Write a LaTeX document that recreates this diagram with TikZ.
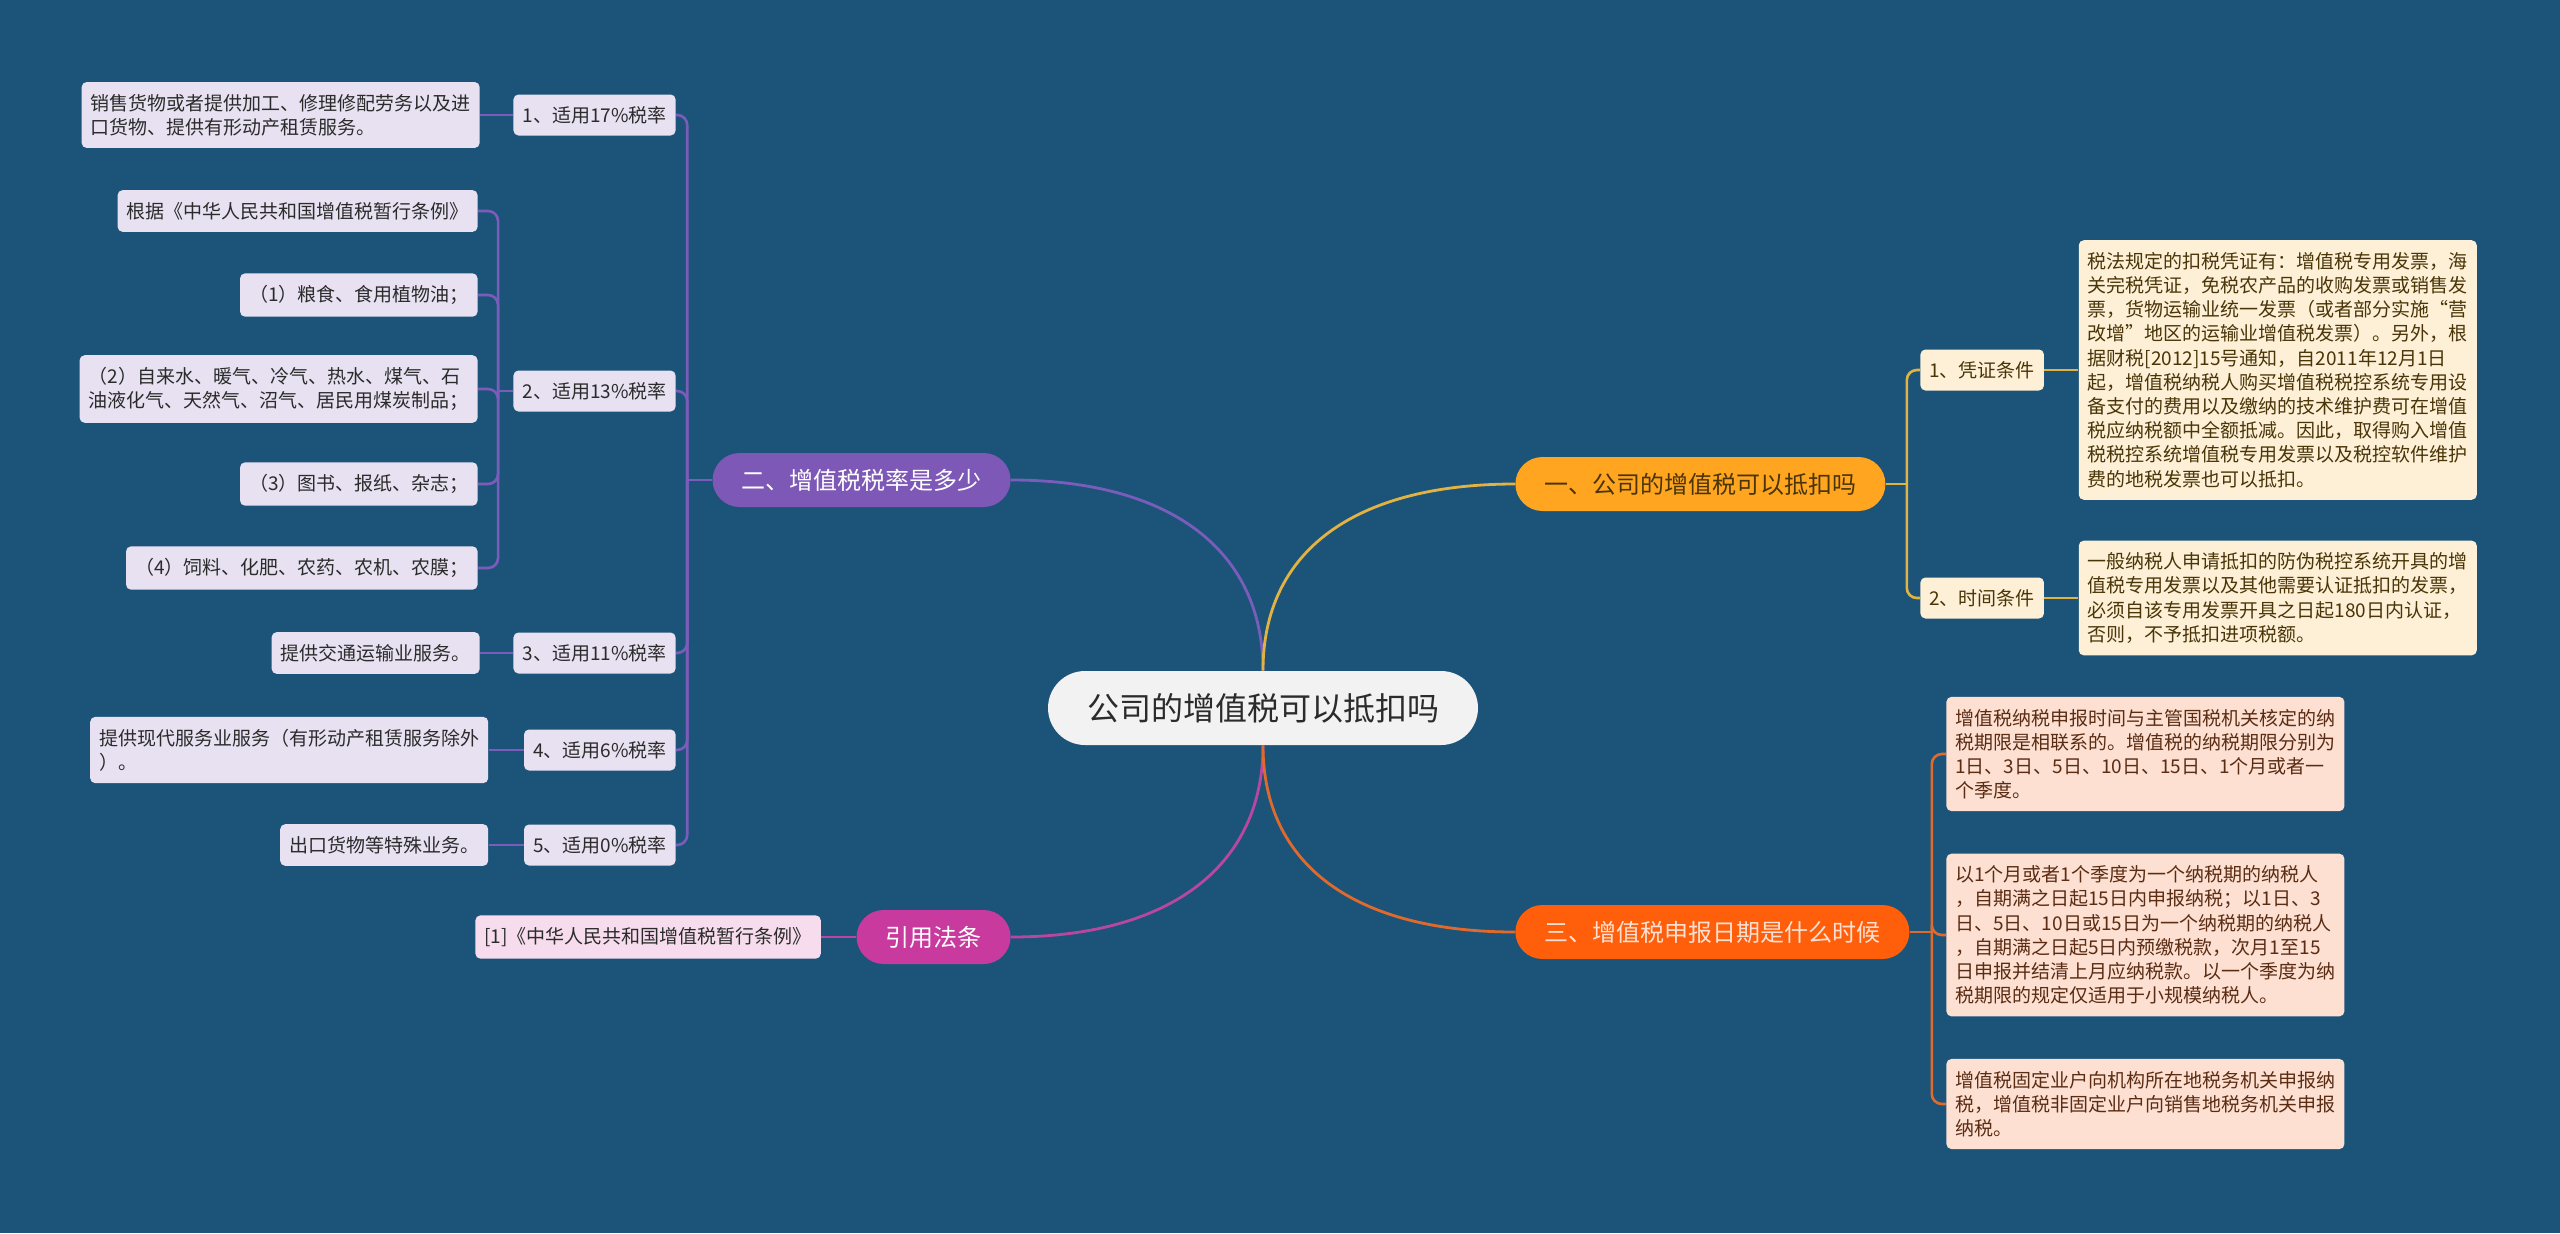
\documentclass[tikz,border=0pt]{standalone}
\usepackage{fontspec}
\setmainfont{Noto Sans CJK SC}
\usetikzlibrary{positioning}
\definecolor{bgBlue}{HTML}{1C5479}
\definecolor{rootG}{HTML}{F2F2F2}
\definecolor{inkD}{HTML}{2B2B2B}
\definecolor{amberM}{HTML}{FFA51F}
\definecolor{amberL}{HTML}{FDF0D6}
\definecolor{amberT}{HTML}{4A3508}
\definecolor{amberW}{HTML}{E2B243}
\definecolor{violetM}{HTML}{7E58B6}
\definecolor{violetL}{HTML}{E7E1F1}
\definecolor{violetW}{HTML}{7A5DBA}
\definecolor{orchidM}{HTML}{C93A9E}
\definecolor{orchidL}{HTML}{F6DCEC}
\definecolor{orchidW}{HTML}{B9479F}
\definecolor{flameM}{HTML}{FF5F0A}
\definecolor{flameL}{HTML}{FDE0D2}
\definecolor{flameT}{HTML}{5A2C14}
\definecolor{flameW}{HTML}{E06A2C}

\begin{document}
\begin{tikzpicture}[
  x=0.5pt, y=-0.5pt,
  rootbox/.style={
    fill=rootG, text=inkD,
    rounded corners=18.5pt,
    minimum height=37pt, inner xsep=19.5pt, inner ysep=0pt,
    font=\fontsize{16pt}{19pt}\selectfont
  },
  topicbox/.style={
    fill=#1, rounded corners=13.5pt,
    minimum height=27pt, inner xsep=14.5pt, inner ysep=0pt,
    font=\fontsize{12pt}{14pt}\selectfont
  },
  subbox/.style={
    fill=#1, text=inkD, rounded corners=2.5pt,
    minimum height=20.5pt, inner xsep=4.5pt, inner ysep=0pt,
    font=\fontsize{9.5pt}{12.1pt}\selectfont
  },
  leafbox/.style={
    fill=#1, text=inkD, rounded corners=2.5pt, align=left,
    minimum height=20.5pt, inner xsep=4.5pt, inner ysep=6pt,
    font=\fontsize{9.5pt}{12.1pt}\selectfont
  },
  wire/.style={draw=#1, line width=1.4pt},
  branch/.style={draw=#1, line width=1.3pt, rounded corners=5pt}
]
\useasboundingbox (0,0) rectangle (2560,1233);
\fill[bgBlue] (0,0) rectangle (2560,1233);

%% ═══ ROOT ═══
\node[rootbox] (root) at (1263,708) {公司的增值税可以抵扣吗};

%% ═══ TOPICS ═══
\node[topicbox=violetM, text=white, anchor=east] (rate) at (1011,480) {二、增值税税率是多少};
\node[topicbox=orchidM, text=white, anchor=east] (law) at (1011,937) {引用法条};
\node[topicbox=amberM, text=amberT, anchor=west] (deduct) at (1515,484) {一、公司的增值税可以抵扣吗};
\node[topicbox=flameM, text=flameL, anchor=west] (filing) at (1515,932) {三、增值税申报日期是什么时候};

\draw[wire=violetW] (root.north) .. controls +(0,-120) and +(160,0) .. (rate.east);
\draw[wire=amberW] (root.north) .. controls +(0,-120) and +(-160,0) .. (deduct.west);
\draw[wire=orchidW] (root.south) .. controls +(0,120) and +(160,0) .. (law.east);
\draw[wire=flameW] (root.south) .. controls +(0,120) and +(-160,0) .. (filing.west);

%% ═══ RATES ═══
\node[subbox=violetL, anchor=east] (r17) at (676,115) {1、适用17\%税率};
\node[subbox=violetL, anchor=east] (r13) at (676,391) {2、适用13\%税率};
\node[subbox=violetL, anchor=east] (r11) at (676,653) {3、适用11\%税率};
\node[subbox=violetL, anchor=east] (r6) at (676,750) {4、适用6\%税率};
\node[subbox=violetL, anchor=east] (r0) at (676,845) {5、适用0\%税率};

\path (rate.west) ++(-25,0) coordinate (rateJ);
\draw[wire=violetW] (rate.west) -- (rateJ);
\foreach \k in {r17,r13,r11,r6,r0}
  \draw[branch=violetW] (rateJ) |- (\k.east);

\node[leafbox=violetL, left=16.5pt of r17] (s17)
  {销售货物或者提供加工、修理修配劳务以及进\\口货物、提供有形动产租赁服务。};
\draw[wire=violetW] (r17.west) -- (s17.east);

\node[leafbox=violetL, anchor=east] (g0) at (478,211) {根据《中华人民共和国增值税暂行条例》};
\node[leafbox=violetL, anchor=east] (g1) at (478,295) {（1）粮食、食用植物油；};
\node[leafbox=violetL, anchor=east] (g2) at (478,389)
  {（2）自来水、暖气、冷气、热水、煤气、石\\油液化气、天然气、沼气、居民用煤炭制品；};
\node[leafbox=violetL, anchor=east] (g3) at (478,484) {（3）图书、报纸、杂志；};
\node[leafbox=violetL, anchor=east] (g4) at (478,568) {（4）饲料、化肥、农药、农机、农膜；};

\path (r13.west) ++(-15,0) coordinate (r13J);
\draw[wire=violetW] (r13.west) -- (r13J);
\foreach \k in {g0,g1,g2,g3,g4}
  \draw[branch=violetW] (r13J) |- (\k.east);

\node[leafbox=violetL, left=16.5pt of r11] (s11) {提供交通运输业服务。};
\draw[wire=violetW] (r11.west) -- (s11.east);

\node[leafbox=violetL, left=17.5pt of r6] (s6)
  {提供现代服务业服务（有形动产租赁服务除外\\）。};
\draw[wire=violetW] (r6.west) -- (s6.east);

\node[leafbox=violetL, left=17.5pt of r0] (s0) {出口货物等特殊业务。};
\draw[wire=violetW] (r0.west) -- (s0.east);

%% ═══ LAW ═══
\node[leafbox=orchidL, left=17.5pt of law] (cite) {[1]《中华人民共和国增值税暂行条例》};
\draw[wire=orchidW] (law.west) -- (cite.east);

%% ═══ DEDUCTION ═══
\node[subbox=amberL, text=amberT, anchor=west] (voucher) at (1920,370) {1、凭证条件};
\node[subbox=amberL, text=amberT, anchor=west] (timing) at (1920,598) {2、时间条件};

\path (deduct.east) ++(21,0) coordinate (deductJ);
\draw[wire=amberW] (deduct.east) -- (deductJ);
\foreach \k in {voucher,timing}
  \draw[branch=amberW] (deductJ) |- (\k.west);

\node[leafbox=amberL, text=amberT, right=17pt of voucher] (vtext)
  {税法规定的扣税凭证有：增值税专用发票，海\\关完税凭证，免税农产品的收购发票或销售发\\票，货物运输业统一发票（或者部分实施“营\\改增”地区的运输业增值税发票）。另外，根\\据财税[2012]15号通知，自2011年12月1日\\起，增值税纳税人购买增值税税控系统专用设\\备支付的费用以及缴纳的技术维护费可在增值\\税应纳税额中全额抵减。因此，取得购入增值\\税税控系统增值税专用发票以及税控软件维护\\费的地税发票也可以抵扣。};
\draw[wire=amberW] (voucher.east) -- (vtext.west);

\node[leafbox=amberL, text=amberT, right=17pt of timing] (ttext)
  {一般纳税人申请抵扣的防伪税控系统开具的增\\值税专用发票以及其他需要认证抵扣的发票，\\必须自该专用发票开具之日起180日内认证，\\否则，不予抵扣进项税额。};
\draw[wire=amberW] (timing.east) -- (ttext.west);

%% ═══ FILING ═══
\node[leafbox=flameL, text=flameT, anchor=west] (f1) at (1946,754)
  {增值税纳税申报时间与主管国税机关核定的纳\\税期限是相联系的。增值税的纳税期限分别为\\1日、3日、5日、10日、15日、1个月或者一\\个季度。};
\node[leafbox=flameL, text=flameT, anchor=west] (f2) at (1946,935)
  {以1个月或者1个季度为一个纳税期的纳税人\\，自期满之日起15日内申报纳税；以1日、3\\日、5日、10日或15日为一个纳税期的纳税人\\，自期满之日起5日内预缴税款，次月1至15\\日申报并结清上月应纳税款。以一个季度为纳\\税期限的规定仅适用于小规模纳税人。};
\node[leafbox=flameL, text=flameT, anchor=west] (f3) at (1946,1104)
  {增值税固定业户向机构所在地税务机关申报纳\\税，增值税非固定业户向销售地税务机关申报\\纳税。};

\path (filing.east) ++(22,0) coordinate (filingJ);
\draw[wire=flameW] (filing.east) -- (filingJ);
\foreach \k in {f1,f2,f3}
  \draw[branch=flameW] (filingJ) |- (\k.west);

\end{tikzpicture}
\end{document}
